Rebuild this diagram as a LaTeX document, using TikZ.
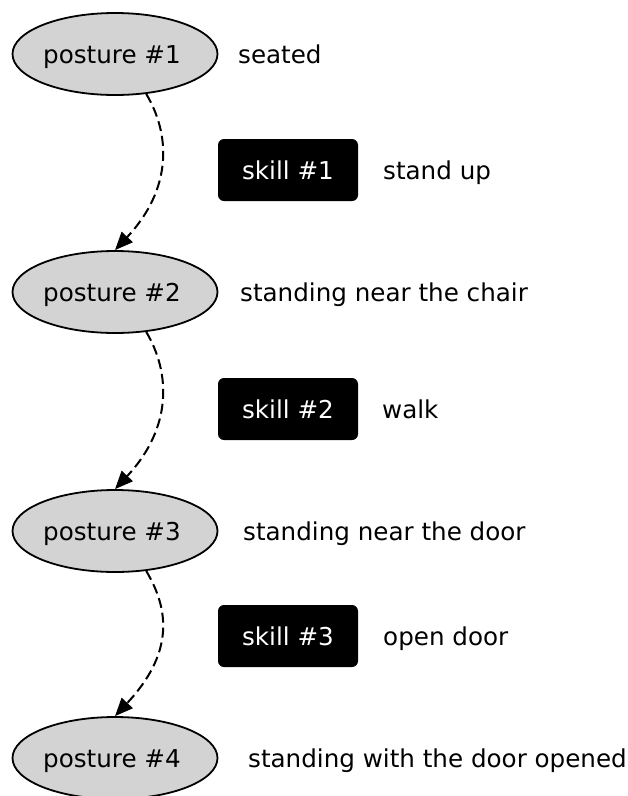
\documentclass[tikz,border=0pt]{standalone}
\usepackage{fontspec}
\setmainfont{DejaVu Sans}
\usetikzlibrary{arrows.meta,shapes.geometric}
\definecolor{postgray}{HTML}{D3D3D3}
\begin{document}
\begin{tikzpicture}[x=1pt,y=-1pt,
  font=\fontsize{24.6}{28}\selectfont,
  every node/.style={text height=18pt,text depth=0pt},
  posture/.style={ellipse,draw=black,line width=1.8pt,fill=postgray,minimum width=205pt,minimum height=82pt,inner sep=0pt},
  skillbox/.style={rectangle,rounded corners=6pt,fill=black,text=white,minimum width=140pt,minimum height=62pt,inner sep=0pt},
  desc/.style={anchor=west,inner sep=0pt},
  trans/.style={line width=2pt,dash pattern=on 10pt off 5pt,-{Triangle[length=18pt,width=15pt]}}]
\useasboundingbox (0,0) rectangle (628,796);
\node[posture] (p1) at (115,54) {posture \#1\kern6pt};
\node[posture] (p2) at (115,292) {posture \#2\kern6pt};
\node[posture] (p3) at (115,531) {posture \#3\kern6pt};
\node[posture] (p4) at (115,758) {posture \#4\kern6pt};
\node[skillbox] (s1) at (288,170) {skill \#1};
\node[skillbox] (s2) at (288,409) {skill \#2};
\node[skillbox] (s3) at (288,636) {skill \#3};
\node[desc] (d1) at (238,54) {seated};
\node[desc] (d2) at (240,292) {standing near the chair};
\node[desc] (d3) at (243,531) {standing near the door};
\node[desc] (d4) at (248,758) {standing with the door opened};
\node[desc] (e1) at (383,170) {stand up};
\node[desc] (e2) at (382,409) {walk};
\node[desc] (e3) at (383,636) {open door};
\draw[trans] (p1.-52) .. controls +(24,40) and +(58,-62) .. (p2.north);
\draw[trans] (p2.-52) .. controls +(24,40) and +(58,-62) .. (p3.north);
\draw[trans] (p3.-52) .. controls +(24,40) and +(58,-62) .. (p4.north);
\end{tikzpicture}
\end{document}
